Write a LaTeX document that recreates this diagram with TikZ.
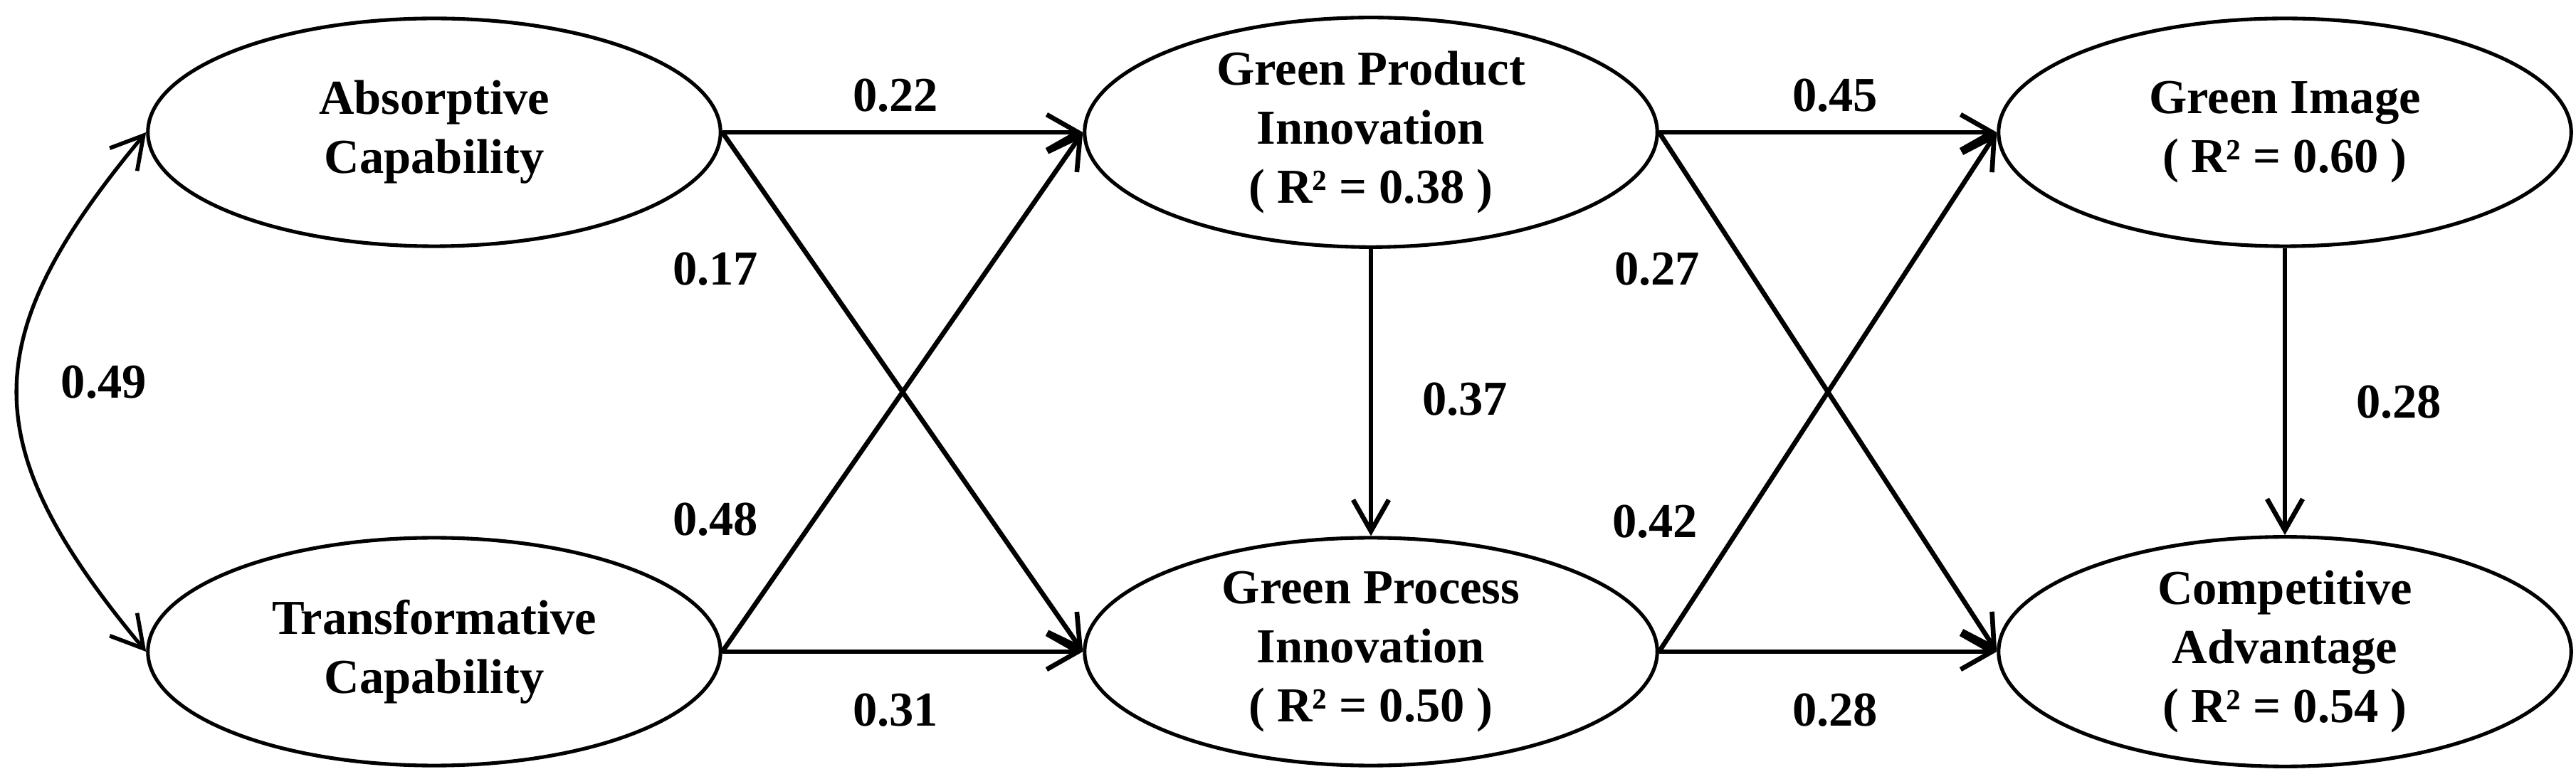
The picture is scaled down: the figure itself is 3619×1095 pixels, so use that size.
\documentclass[tikz,border=0pt]{standalone}
\usepackage{fontspec}
\setmainfont{Liberation Serif}
\usetikzlibrary{shapes.geometric,arrows.meta}
\begin{document}
\begin{tikzpicture}[x=0.01cm,y=-0.01cm,
  lv/.style={draw, line width=1.45pt, ellipse, minimum width=8.04cm, minimum height=3.2cm,
    inner sep=0pt, align=center, font=\fontsize{19.5pt}{23.6pt}\selectfont\bfseries},
  pth/.style={line width=1.9pt, -{Straight Barb[length=0.44cm,width=0.5cm,line width=1.9pt]}},
  cov/.style={line width=1.5pt, {Straight Barb[length=0.44cm,width=0.5cm,line width=1.6pt]}-{Straight Barb[length=0.44cm,width=0.5cm,line width=1.6pt]}},
  coef/.style={font=\fontsize{19.5pt}{23.6pt}\selectfont\bfseries, inner sep=0pt}]
\useasboundingbox (0,0) rectangle (3619,1095);
\node[lv] (ac)  at (610,186)  {Absorptive\\Capability};
\node[lv] (tc)  at (610,916)  {Transformative\\Capability};
\node[lv] (gpd) at (1926,186) {Green Product\\Innovation\\( R² = 0.38 )};
\node[lv] (gpc) at (1926,916) {Green Process\\Innovation\\( R² = 0.50 )};
\node[lv] (gi)  at (3210,186) {Green Image\\( R² = 0.60 )};
\node[lv] (ca)  at (3210,916) {Competitive\\Advantage\\( R² = 0.54 )};

\draw[pth] (ac.east) -- (gpd.west);
\draw[pth] (ac.east) -- (gpc.west);
\draw[pth] (tc.east) -- (gpd.west);
\draw[pth] (tc.east) -- (gpc.west);
\draw[pth] (gpd.south) -- (gpc.north);
\draw[pth] (gpd.east) -- (gi.west);
\draw[pth] (gpd.east) -- (ca.west);
\draw[pth] (gpc.east) -- (gi.west);
\draw[pth] (gpc.east) -- (ca.west);
\draw[pth] (gi.south) -- (ca.north);
\draw[cov] (ac.west) .. controls +(-241,290) and +(-241,-290) .. (tc.west);

\node[coef] (l22) at (1258,134) {0.22};
\node[coef] (l17) at (1005,378) {0.17};
\node[coef] (l48) at (1005,730) {0.48};
\node[coef] (l31) at (1258,998) {0.31};
\node[coef] (l37) at (2058,561) {0.37};
\node[coef] (l45) at (2578,134) {0.45};
\node[coef] (l27) at (2328,378) {0.27};
\node[coef] (l42) at (2325,733) {0.42};
\node[coef] (l28a) at (2578,998) {0.28};
\node[coef] (l28b) at (3370,565) {0.28};
\node[coef] (l49) at (146,537) {0.49};
\end{tikzpicture}
\end{document}
